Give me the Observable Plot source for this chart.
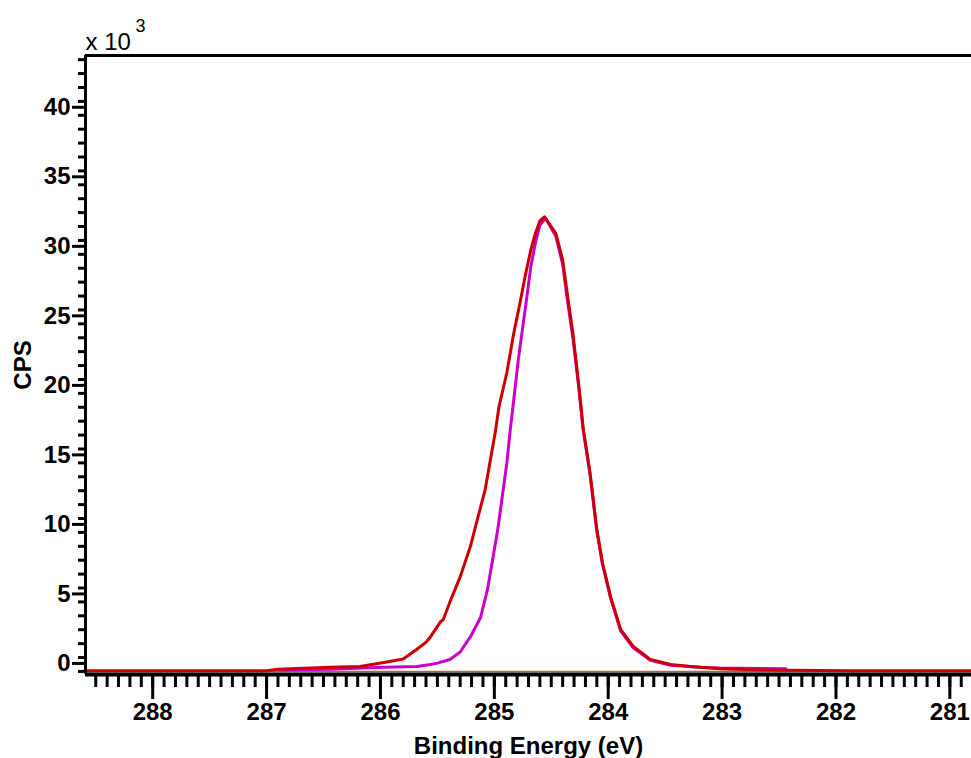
<!DOCTYPE html>
<html><head><meta charset="utf-8">
<script src="https://cdn.jsdelivr.net/npm/d3@7"></script>
<script src="https://cdn.jsdelivr.net/npm/@observablehq/plot@0.6"></script>
<style>body{margin:0;background:#fff;}</style>
</head><body><div id="chart"></div>
<script>
// Binding energy (eV) and CPS (x 10^3)
const redEnergy = [288.59, 287.00, 286.90, 286.44, 286.18, 285.97, 285.80, 285.68, 285.60, 285.56, 285.47, 285.45, 285.39, 285.30, 285.21, 285.15, 285.08, 285.02, 284.99, 284.96, 284.89, 284.83, 284.77, 284.73, 284.68, 284.64, 284.60, 284.56, 284.46, 284.40, 284.36, 284.31, 284.26, 284.22, 284.16, 284.10, 284.05, 283.98, 283.89, 283.78, 283.63, 283.45, 283.28, 283.02, 282.66, 281.87, 280.81];
const redCPS    = [0.05, 0.05, 0.15, 0.3, 0.35, 0.65, 0.9, 1.6, 2.1, 2.5, 3.6, 3.7, 5.0, 6.8, 9.0, 10.9, 13.1, 15.9, 17.3, 19.0, 21.5, 24.3, 26.7, 28.4, 30.3, 31.5, 32.4, 32.7, 31.5, 29.6, 27.2, 24.3, 20.7, 17.5, 14.3, 10.2, 7.8, 5.4, 3.0, 1.8, 0.86, 0.5, 0.36, 0.2, 0.1, 0.05, 0.05];
const magentaEnergy = [286.88, 286.44, 285.97, 285.68, 285.56, 285.50, 285.39, 285.30, 285.21, 285.12, 285.06, 285.02, 284.97, 284.93, 284.89, 284.86, 284.83, 284.79, 284.75, 284.71, 284.68, 284.64, 284.60, 284.55, 284.46, 284.40, 284.36, 284.31, 284.26, 284.22, 284.16, 284.10, 284.05, 283.98, 283.89, 283.78, 283.63, 283.45, 283.19, 283.02, 282.44];
const magentaCPS    = [0.1, 0.15, 0.3, 0.35, 0.5, 0.6, 0.86, 1.4, 2.5, 3.9, 5.9, 7.8, 10.2, 12.6, 15.0, 17.4, 19.5, 22.4, 24.8, 27.2, 29.1, 30.8, 32.1, 32.6, 31.3, 29.3, 26.8, 24.0, 20.5, 17.4, 14.2, 10.1, 7.7, 5.3, 2.9, 1.7, 0.8, 0.45, 0.3, 0.25, 0.2];
const baselineEnergy = [288.59, 280.81];
const baselineCPS = [0, 0];

const xMajorTicks = [288, 287, 286, 285, 284, 283, 282, 281];
const yMajorTicks = [0, 5, 10, 15, 20, 25, 30, 35, 40];
const xTitle = "Binding Energy (eV)";
const yTitle = "CPS";
const scaleText = "x 10";
const scaleExp = "3";

const xDomain = [288.59, 280.81];
const yDomain = [-0.22, 44.3];

const red = redEnergy.map((e, i) => ({e, c: redCPS[i]}));
const magenta = magentaEnergy.map((e, i) => ({e, c: magentaCPS[i]}));
const baseline = baselineEnergy.map((e, i) => ({e, c: baselineCPS[i]}));

const xMinor = d3.range(2809, 2886).map(d => d / 10);
const yMinor = d3.range(0, 45);

const chart = Plot.plot({
  width: 971,
  height: 758,
  marginLeft: 85,
  marginRight: 0,
  marginTop: 55,
  marginBottom: 84,
  style: {fontFamily: "'Liberation Sans', Arial, sans-serif", fontSize: "24px", color: "#000", background: "#fff", overflow: "visible"},
  x: {domain: xDomain, axis: null},
  y: {domain: yDomain, axis: null},
  marks: [
    Plot.line(baseline, {x: "e", y: "c", stroke: "#b5651d", strokeWidth: 1.5}),
    Plot.line(magenta, {x: "e", y: "c", stroke: "#cc00cc", strokeWidth: 3}),
    Plot.line(red, {x: "e", y: "c", stroke: "#cc0000", strokeWidth: 3}),
    Plot.ruleY([yDomain[0]], {stroke: "#000", strokeWidth: 4}),
    Plot.ruleY([yDomain[1]], {stroke: "#000", strokeWidth: 3}),
    Plot.ruleX([xDomain[0]], {stroke: "#000", strokeWidth: 3}),
    Plot.axisX(xMinor, {anchor: "bottom", tickSize: 13, tickFormat: () => "", strokeWidth: 3, label: null}),
    Plot.axisX(xMajorTicks, {anchor: "bottom", tickSize: 25, tickPadding: 3, strokeWidth: 3, tickFormat: d => String(d), label: null, fontSize: 24, fontWeight: "bold"}),
    Plot.axisY(yMinor, {anchor: "left", tickSize: 7, tickFormat: () => "", strokeWidth: 3, label: null}),
    Plot.axisY(yMajorTicks, {anchor: "left", tickSize: 13, tickPadding: 2, dy: -8, strokeWidth: 3, tickFormat: d => String(d), label: null, fontSize: 24, fontWeight: "bold"}),
    Plot.text([xTitle], {frameAnchor: "bottom", lineAnchor: "middle", dy: 72, fontWeight: "bold", fontSize: 24, fill: "#000"}),
    Plot.text([yTitle], {frameAnchor: "left", textAnchor: "middle", lineAnchor: "middle", dx: -62, rotate: -90, fontWeight: "bold", fontSize: 24, fill: "#000"}),
    Plot.text([scaleText], {frameAnchor: "top-left", textAnchor: "start", lineAnchor: "middle", dx: 0, dy: -13, fontSize: 24, fill: "#000"}),
    Plot.text([scaleExp], {frameAnchor: "top-left", textAnchor: "start", lineAnchor: "middle", dx: 50, dy: -29, fontSize: 18, fill: "#000"})
  ]
});
document.getElementById("chart").appendChild(chart);
</script>
</body></html>
